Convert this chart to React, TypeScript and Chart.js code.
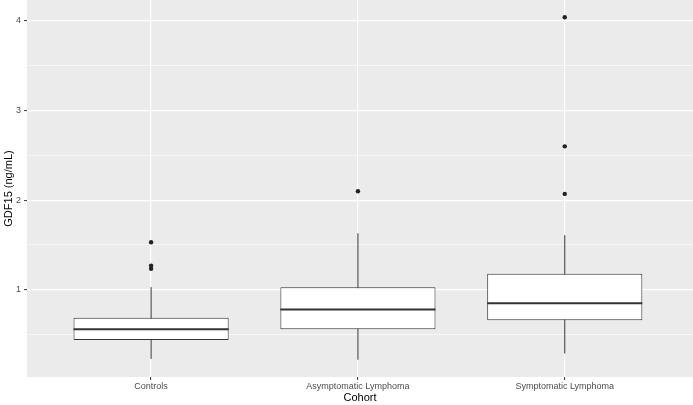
import React, { useEffect, useRef } from "react";
import { Chart, registerables } from "chart.js";

Chart.register(...registerables);

const categories = ["Controls", "Asymptomatic Lymphoma", "Symptomatic Lymphoma"];
const whiskerLow = [0.23, 0.22, 0.29];
const q1 = [0.44, 0.56, 0.66];
const median = [0.56, 0.78, 0.85];
const q3 = [0.69, 1.03, 1.18];
const whiskerHigh = [1.03, 1.63, 1.61];
const outliers = [[1.53, 1.27, 1.235], [2.1], [4.04, 2.6, 2.07]];
const yTicks = [0.5, 1, 1.5, 2, 2.5, 3, 3.5, 4];
const majorY = [1, 2, 3, 4];

const BOX_WIDTH = 0.75;
const FONT = "'Liberation Sans', Arial, Helvetica, sans-serif";

const panelBg = {
  id: "panelBg",
  beforeDraw(chart: any) {
    const { ctx, chartArea } = chart;
    ctx.save();
    ctx.fillStyle = "#EBEBEB";
    ctx.fillRect(chartArea.left, chartArea.top, chartArea.right - chartArea.left, chartArea.bottom - chartArea.top);
    ctx.restore();
  },
};

const zeroPad = (scale: any) => {
  scale.paddingTop = 0;
  scale.paddingBottom = 0;
  scale.paddingLeft = 0;
  scale.paddingRight = 0;
};

export default function App() {
  const ref = useRef<HTMLCanvasElement | null>(null);

  useEffect(() => {
    if (!ref.current) return;
    const xs = categories.map((_, i) => i + 1);

    const whiskerSets = xs.map((x, i) => ({
      type: "line" as const,
      data: [
        { x, y: whiskerLow[i] },
        { x, y: whiskerHigh[i] },
      ],
      borderColor: "#333333",
      borderWidth: 1,
      pointRadius: 0,
      order: 4,
    }));

    const medianSets = xs.map((x, i) => ({
      type: "line" as const,
      data: [
        { x: x - BOX_WIDTH / 2, y: median[i] },
        { x: x + BOX_WIDTH / 2, y: median[i] },
      ],
      borderColor: "#333333",
      borderWidth: 2,
      pointRadius: 0,
      order: 2,
    }));

    const outlierPoints: { x: number; y: number }[] = [];
    outliers.forEach((arr, i) => arr.forEach((v) => outlierPoints.push({ x: xs[i], y: v })));

    const chart = new Chart(ref.current, {
      type: "bar",
      data: {
        datasets: [
          ...whiskerSets,
          {
            type: "bar" as const,
            data: xs.map((x, i) => ({ x, y: [q1[i], q3[i]] })) as any,
            backgroundColor: "#FFFFFF",
            borderColor: "#333333",
            borderWidth: 1,
            borderSkipped: false,
            barPercentage: BOX_WIDTH,
            categoryPercentage: 1,
            order: 3,
          },
          ...medianSets,
          {
            type: "line" as const,
            data: outlierPoints,
            showLine: false,
            pointRadius: 2.2,
            pointBackgroundColor: "#222222",
            pointBorderWidth: 0,
            order: 1,
          },
        ] as any,
      },
      options: {
        animation: false,
        responsive: false,
        devicePixelRatio: 1,
        layout: { padding: 0, autoPadding: false },
        plugins: {
          legend: { display: false },
          tooltip: { enabled: false },
        },
        scales: {
          x: {
            type: "linear",
            min: 0.4,
            max: 3.62,
            offset: false,
            afterBuildTicks: (scale: any) => {
              scale.ticks = xs.map((v) => ({ value: v }));
            },
            afterFit: (scale: any) => {
              scale.height = 28;
              zeroPad(scale);
            },
            ticks: {
              callback: (v: any) => categories[Number(v) - 1] ?? "",
              autoSkip: false,
              maxRotation: 0,
              minRotation: 0,
              padding: 1,
              color: "#4D4D4D",
              font: { family: FONT, size: 9 },
            },
            grid: {
              offset: false,
              color: "#FFFFFF",
              lineWidth: 1.2,
              tickColor: "#333333",
              tickLength: 3,
              tickWidth: 1,
            },
            border: { display: false },
            title: {
              display: true,
              text: "Cohort",
              color: "#000000",
              font: { family: FONT, size: 11 },
              padding: 0,
            },
          },
          y: {
            type: "linear",
            min: 0.028,
            max: 4.232,
            afterBuildTicks: (scale: any) => {
              scale.ticks = yTicks.map((v) => ({ value: v }));
            },
            afterFit: (scale: any) => {
              scale.width = 27;
              zeroPad(scale);
            },
            ticks: {
              callback: (v: any) => (majorY.includes(Number(v)) ? String(v) : ""),
              padding: 3,
              color: "#4D4D4D",
              font: { family: FONT, size: 9 },
            },
            grid: {
              color: "#FFFFFF",
              lineWidth: (c: any) => (majorY.includes(c.tick?.value) ? 1.2 : 0.6),
              tickColor: (c: any) => (majorY.includes(c.tick?.value) ? "#333333" : "rgba(0,0,0,0)"),
              tickLength: 3,
              tickWidth: 1,
            },
            border: { display: false },
            title: {
              display: true,
              text: "GDF15 (ng/mL)",
              color: "#000000",
              font: { family: FONT, size: 11 },
              padding: { top: 2, bottom: 0 },
            },
          },
        },
      },
      plugins: [panelBg],
    });

    return () => chart.destroy();
  }, []);

  return (
    <div style={{ position: "absolute", left: 0, top: 0, width: 693, height: 405 }}>
      <canvas ref={ref} width={693} height={405} />
    </div>
  );
}
